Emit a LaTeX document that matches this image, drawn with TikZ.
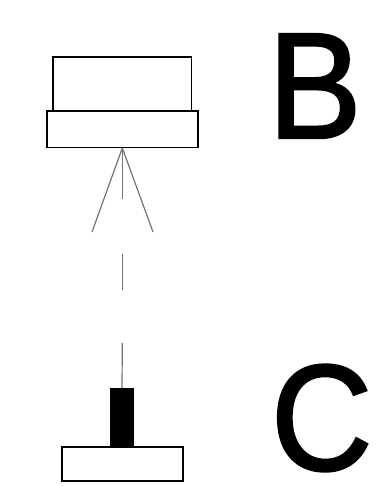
\documentclass[tikz,border=0pt]{standalone}
\usepackage{fontspec}
\setmainfont{Liberation Sans}[FakeBold=1.6,FakeStretch=0.93]
\tikzset{
  boxpart/.style={draw=black,line width=1.3pt,fill=white,inner sep=0pt,outer sep=0pt,anchor=north west},
  solidpart/.style={draw=black,fill=black,line width=0.6pt,inner sep=0pt,outer sep=0pt,anchor=north west},
  ray/.style={draw=black!55,line width=1.2pt},
  bigletter/.style={inner sep=0pt,outer sep=0pt,anchor=base west,font=\fontsize{151}{151}\selectfont}
}
\begin{document}
\begin{tikzpicture}[x=1pt,y=-1pt]
\useasboundingbox (0,0) rectangle (379,486);
\node[boxpart,minimum width=138.5pt,minimum height=54pt] (top) at (53,57) {};
\node[boxpart,minimum width=151pt,minimum height=36.5pt] (mid) at (47,111) {};
\coordinate (apex) at (122.3,148);
\coordinate (left) at (92,232);
\coordinate (right) at (153,232);
\coordinate (centre) at (122.3,199);
\coordinate (dashA) at (122.3,254);
\coordinate (dashB) at (122.3,289.5);
\coordinate (stem) at (122.3,343);
\node[solidpart,minimum width=23pt,minimum height=59pt] (post) at (110.5,388) {};
\node[boxpart,minimum width=121pt,minimum height=34pt] (base) at (62,447) {};
\draw[ray] (apex) -- (left);
\draw[ray] (apex) -- (right);
\draw[ray] (apex) -- (centre);
\draw[ray] (dashA) -- (dashB);
\draw[ray] (stem) -- (post.north);
\node[bigletter] (B) at (268,138) {B};
\node[bigletter] (C) at (271,470) {C};
\end{tikzpicture}
\end{document}
